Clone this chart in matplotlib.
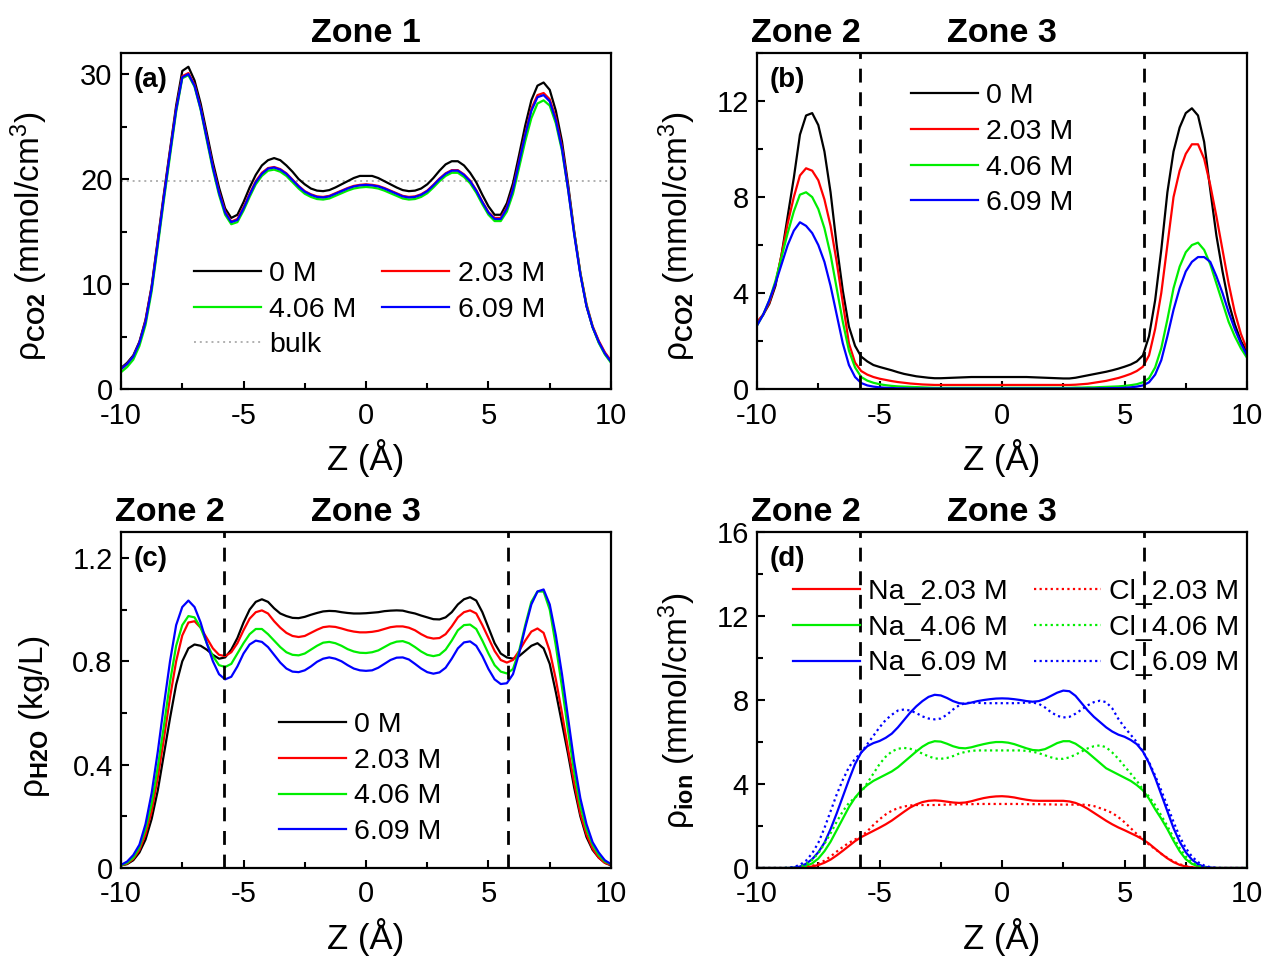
import numpy as np
import matplotlib
matplotlib.use('Agg')
import matplotlib.pyplot as plt
from matplotlib.ticker import MultipleLocator, FuncFormatter

plt.rcParams['font.family'] = ['Liberation Sans', 'DejaVu Sans']
plt.rcParams['mathtext.fontset'] = 'custom'
plt.rcParams['mathtext.rm'] = 'Liberation Sans'
plt.rcParams['mathtext.it'] = 'Liberation Sans:italic'
plt.rcParams['mathtext.bf'] = 'Liberation Sans:bold'
plt.rcParams['axes.unicode_minus'] = False

# Z grid (Angstrom), 0.25 A steps, 81 points
z = np.linspace(-10, 10, 81)

# (a) CO2 density in zone 1 (mmol/cm3)
a_0M = [2.0, 2.5, 3.2, 4.5, 6.6, 9.8, 14.2, 18.6, 22.8,
        27.0, 30.3, 30.7, 29.4, 27.2, 24.4, 21.6, 19.2, 17.2,
        16.3, 16.6, 17.8, 19.2, 20.4, 21.3, 21.8, 22.0, 21.8,
        21.3, 20.7, 20.0, 19.5, 19.1, 18.9, 18.85, 18.95, 19.2,
        19.5, 19.8, 20.1, 20.3, 20.3, 20.3, 20.1, 19.8, 19.5,
        19.2, 18.95, 18.85, 18.9, 19.1, 19.5, 20.1, 20.8, 21.4,
        21.7, 21.7, 21.3, 20.6, 19.7, 18.5, 17.4, 16.6, 16.6,
        17.7, 19.6, 22.3, 25.1, 27.5, 28.9, 29.2, 28.5, 26.5,
        23.6, 19.5, 15.0, 11.0, 7.9, 5.9, 4.5, 3.4, 2.6]
a_203 = [1.9, 2.4, 3.1, 4.4, 6.5, 9.7, 14.0, 18.4, 22.6,
         26.7, 29.8, 30.1, 29.0, 26.8, 24.0, 21.2, 18.8, 16.9,
         15.95, 16.2, 17.3, 18.6, 19.8, 20.6, 21.05, 21.15, 20.95,
         20.55, 19.95, 19.35, 18.85, 18.55, 18.35, 18.3, 18.4, 18.65,
         18.9, 19.15, 19.35, 19.45, 19.5, 19.45, 19.35, 19.15, 18.9,
         18.65, 18.4, 18.3, 18.35, 18.55, 18.9, 19.45, 20.05, 20.55,
         20.85, 20.85, 20.45, 19.85, 18.95, 17.85, 16.85, 16.3, 16.3,
         17.3, 19.1, 21.7, 24.3, 26.7, 28.0, 28.2, 27.6, 25.8,
         23.1, 19.2, 14.9, 11.1, 8.1, 6.0, 4.6, 3.5, 2.7]
a_406 = [1.6, 2.1, 2.8, 4.1, 6.1, 9.3, 13.6, 18.0, 22.2,
         26.4, 29.6, 29.9, 28.8, 26.6, 23.7, 20.9, 18.5, 16.6,
         15.7, 15.9, 17.0, 18.3, 19.5, 20.3, 20.8, 20.9, 20.7,
         20.3, 19.7, 19.1, 18.6, 18.3, 18.1, 18.05, 18.15, 18.4,
         18.65, 18.9, 19.1, 19.2, 19.25, 19.2, 19.1, 18.9, 18.65,
         18.4, 18.15, 18.05, 18.1, 18.3, 18.65, 19.2, 19.8, 20.3,
         20.6, 20.6, 20.2, 19.6, 18.7, 17.6, 16.6, 16.0, 16.0,
         16.9, 18.6, 21.1, 23.6, 25.8, 27.2, 27.5, 27.0, 25.3,
         22.7, 19.0, 14.8, 11.0, 8.0, 5.9, 4.4, 3.3, 2.5]
a_609 = [1.9, 2.4, 3.1, 4.4, 6.4, 9.6, 13.9, 18.3, 22.5,
         26.6, 29.7, 30.0, 28.9, 26.7, 23.9, 21.1, 18.7, 16.8,
         15.9, 16.1, 17.2, 18.5, 19.7, 20.5, 21.0, 21.1, 20.9,
         20.5, 19.9, 19.3, 18.8, 18.5, 18.3, 18.25, 18.35, 18.6,
         18.85, 19.1, 19.3, 19.4, 19.45, 19.4, 19.3, 19.1, 18.85,
         18.6, 18.35, 18.25, 18.3, 18.5, 18.85, 19.4, 20.0, 20.5,
         20.8, 20.8, 20.4, 19.8, 18.9, 17.8, 16.8, 16.2, 16.2,
         17.2, 19.0, 21.6, 24.2, 26.5, 27.8, 28.0, 27.4, 25.6,
         22.9, 19.0, 14.7, 10.9, 7.9, 5.9, 4.5, 3.4, 2.6]
a_bulk = 19.8

# (b) CO2 density across zones 2/3 (mmol/cm3)
b_0M = [2.75, 3.1, 3.55, 4.3, 5.6, 7.2, 8.8, 10.6, 11.4,
        11.5, 11.0, 9.9, 8.2, 6.0, 4.1, 2.6, 1.8, 1.35,
        1.15, 1.0, 0.92, 0.85, 0.78, 0.7, 0.63, 0.58, 0.53,
        0.5, 0.47, 0.45, 0.45, 0.46, 0.47, 0.48, 0.49, 0.5,
        0.5, 0.5, 0.5, 0.5, 0.5, 0.5, 0.5, 0.5, 0.5,
        0.49, 0.48, 0.47, 0.46, 0.45, 0.44, 0.44, 0.47, 0.52,
        0.57, 0.62, 0.67, 0.72, 0.78, 0.85, 0.93, 1.02, 1.15,
        1.4, 2.2, 3.7, 5.8, 8.2, 9.9, 10.9, 11.5, 11.7,
        11.4, 10.3, 8.3, 6.4, 4.9, 3.6, 2.7, 2.0, 1.55]
b_203 = [2.8, 3.1, 3.6, 4.4, 5.6, 6.9, 8.0, 8.9, 9.2,
         9.1, 8.7, 7.9, 6.8, 5.3, 3.6, 1.9, 1.1, 0.75,
         0.6, 0.5, 0.43, 0.38, 0.33, 0.29, 0.26, 0.23, 0.21,
         0.19, 0.18, 0.17, 0.17, 0.17, 0.17, 0.17, 0.17, 0.17,
         0.17, 0.17, 0.17, 0.17, 0.17, 0.17, 0.17, 0.17, 0.17,
         0.17, 0.17, 0.17, 0.17, 0.17, 0.17, 0.17, 0.18, 0.2,
         0.22, 0.26, 0.3, 0.34, 0.4, 0.46, 0.54, 0.63, 0.75,
         0.93, 1.4, 2.5, 4.0, 6.0, 8.0, 9.1, 9.8, 10.2,
         10.2, 9.6, 8.5, 7.2, 5.8, 4.4, 3.2, 2.3, 1.65]
b_406 = [2.65, 3.1, 3.7, 4.5, 5.5, 6.5, 7.4, 8.1, 8.2,
         8.0, 7.5, 6.7, 5.6, 4.2, 2.8, 1.6, 0.9, 0.5,
         0.35, 0.26, 0.2, 0.16, 0.13, 0.11, 0.1, 0.09, 0.08,
         0.07, 0.06, 0.05, 0.05, 0.05, 0.05, 0.05, 0.05, 0.05,
         0.05, 0.05, 0.05, 0.05, 0.05, 0.05, 0.05, 0.05, 0.05,
         0.05, 0.05, 0.05, 0.05, 0.05, 0.05, 0.05, 0.06, 0.06,
         0.07, 0.07, 0.08, 0.09, 0.1, 0.11, 0.13, 0.16, 0.2,
         0.28, 0.45, 0.9, 1.7, 2.9, 4.2, 5.1, 5.7, 6.0,
         6.1, 5.8, 5.2, 4.4, 3.6, 2.8, 2.2, 1.7, 1.3]
b_609 = [2.65, 3.1, 3.7, 4.4, 5.2, 6.0, 6.6, 6.95, 6.8,
         6.5, 6.0, 5.3, 4.3, 3.1, 1.9, 1.0, 0.5, 0.25,
         0.15, 0.1, 0.07, 0.05, 0.04, 0.03, 0.03, 0.02, 0.02,
         0.02, 0.02, 0.02, 0.02, 0.02, 0.02, 0.02, 0.02, 0.02,
         0.02, 0.02, 0.02, 0.02, 0.02, 0.02, 0.02, 0.02, 0.02,
         0.02, 0.02, 0.02, 0.02, 0.02, 0.02, 0.02, 0.02, 0.02,
         0.02, 0.02, 0.03, 0.03, 0.04, 0.04, 0.05, 0.07, 0.1,
         0.15, 0.28, 0.6, 1.2, 2.2, 3.3, 4.2, 4.9, 5.3,
         5.5, 5.5, 5.3, 4.7, 4.0, 3.2, 2.5, 1.9, 1.4]

# (c) H2O density (kg/L)
c_0M = [0.01, 0.015, 0.03, 0.06, 0.11, 0.19, 0.3, 0.44, 0.58,
        0.71, 0.8, 0.85, 0.865, 0.86, 0.845, 0.825, 0.81, 0.815,
        0.845, 0.89, 0.95, 1.0, 1.03, 1.04, 1.03, 1.005, 0.985,
        0.975, 0.968, 0.967, 0.972, 0.98, 0.987, 0.993, 0.995, 0.994,
        0.99, 0.987, 0.985, 0.985, 0.986, 0.988, 0.99, 0.994, 0.996,
        0.997, 0.996, 0.99, 0.985, 0.977, 0.97, 0.963, 0.962, 0.97,
        0.99, 1.02, 1.04, 1.048, 1.035, 0.99, 0.93, 0.87, 0.83,
        0.815, 0.81, 0.82, 0.84, 0.86, 0.87, 0.85, 0.79, 0.68,
        0.56, 0.44, 0.31, 0.2, 0.12, 0.07, 0.04, 0.02, 0.01]
c_203 = [0.01, 0.017, 0.035, 0.07, 0.13, 0.22, 0.35, 0.5, 0.66,
         0.8, 0.9, 0.95, 0.955, 0.93, 0.89, 0.85, 0.825, 0.82,
         0.835, 0.87, 0.92, 0.965, 0.99, 0.997, 0.985, 0.955, 0.93,
         0.91, 0.898, 0.894, 0.898, 0.91, 0.922, 0.932, 0.935, 0.933,
         0.927, 0.92, 0.915, 0.912, 0.912, 0.914, 0.918, 0.925, 0.932,
         0.935, 0.935, 0.93, 0.92, 0.905, 0.893, 0.888, 0.89, 0.905,
         0.935, 0.97, 0.99, 0.997, 0.985, 0.94, 0.89, 0.84, 0.805,
         0.795, 0.805, 0.84, 0.88, 0.915, 0.927, 0.91, 0.84, 0.73,
         0.6, 0.46, 0.33, 0.21, 0.13, 0.075, 0.04, 0.02, 0.012]
c_406 = [0.01, 0.02, 0.04, 0.08, 0.15, 0.25, 0.39, 0.55, 0.72,
         0.86, 0.94, 0.975, 0.97, 0.93, 0.87, 0.82, 0.785, 0.778,
         0.79, 0.83, 0.87, 0.905, 0.925, 0.925, 0.905, 0.88, 0.855,
         0.835, 0.825, 0.823, 0.83, 0.845, 0.86, 0.872, 0.875, 0.87,
         0.86, 0.847, 0.838, 0.833, 0.832, 0.835, 0.842, 0.855, 0.868,
         0.876, 0.878, 0.87, 0.855, 0.838, 0.825, 0.82, 0.825, 0.845,
         0.88, 0.92, 0.94, 0.942, 0.925, 0.88, 0.83, 0.785, 0.76,
         0.753, 0.77, 0.84, 0.94, 1.03, 1.07, 1.07, 1.0, 0.86,
         0.7, 0.53, 0.37, 0.24, 0.15, 0.09, 0.05, 0.025, 0.015]
c_609 = [0.012, 0.025, 0.05, 0.09, 0.17, 0.29, 0.45, 0.63, 0.8,
         0.94, 1.01, 1.035, 1.01, 0.95, 0.87, 0.8, 0.75, 0.73,
         0.74, 0.78, 0.83, 0.865, 0.88, 0.875, 0.855, 0.825, 0.795,
         0.772, 0.76, 0.758, 0.765, 0.78, 0.798, 0.81, 0.815, 0.81,
         0.8, 0.785, 0.772, 0.765, 0.763, 0.765, 0.775, 0.79, 0.805,
         0.814, 0.815, 0.807, 0.79, 0.772, 0.758, 0.752, 0.757, 0.775,
         0.81, 0.85, 0.873, 0.877, 0.86, 0.82, 0.77, 0.73, 0.712,
         0.715, 0.75, 0.83, 0.93, 1.02, 1.07, 1.078, 1.02, 0.9,
         0.75, 0.58, 0.41, 0.27, 0.17, 0.1, 0.06, 0.03, 0.015]

# (d) ion densities (mmol/cm3)
na_203 = [0, 0, 0, 0, 0, 0, 0, 0.01, 0.03,
          0.07, 0.14, 0.25, 0.4, 0.6, 0.82, 1.05, 1.28, 1.47,
          1.62, 1.77, 1.92, 2.08, 2.26, 2.47, 2.68, 2.88, 3.03,
          3.14, 3.2, 3.22, 3.2, 3.16, 3.12, 3.1, 3.12, 3.18,
          3.26, 3.33, 3.38, 3.41, 3.42, 3.4, 3.36, 3.3, 3.25,
          3.21, 3.2, 3.2, 3.2, 3.2, 3.2, 3.17, 3.1, 2.98,
          2.82, 2.63, 2.44, 2.25, 2.08, 1.93, 1.8, 1.66, 1.52,
          1.36, 1.16, 0.92, 0.68, 0.46, 0.28, 0.15, 0.07, 0.03,
          0.01, 0, 0, 0, 0, 0, 0, 0, 0]
na_406 = [0, 0, 0, 0, 0, 0, 0.01, 0.04, 0.1,
          0.22, 0.45, 0.8, 1.25, 1.8, 2.35, 2.9, 3.35, 3.7,
          3.95, 4.15, 4.3, 4.45, 4.6, 4.8, 5.05, 5.3, 5.55,
          5.78, 5.95, 6.04, 6.02, 5.92, 5.8, 5.72, 5.7, 5.75,
          5.83, 5.9, 5.96, 6.0, 6.0, 5.97, 5.9, 5.8, 5.7,
          5.62, 5.6, 5.66, 5.8, 5.95, 6.04, 6.04, 5.92, 5.72,
          5.5, 5.25, 5.0, 4.75, 4.6, 4.45, 4.3, 4.15, 3.95,
          3.7, 3.3, 2.8, 2.35, 1.85, 1.3, 0.8, 0.42, 0.2,
          0.08, 0.02, 0, 0, 0, 0, 0, 0, 0]
na_609 = [0, 0, 0, 0, 0, 0, 0.02, 0.07, 0.2,
          0.42, 0.75, 1.2, 1.85, 2.6, 3.4, 4.2, 4.95, 5.5,
          5.8, 5.95, 6.05, 6.2, 6.4, 6.7, 7.05, 7.4, 7.7,
          7.95, 8.15, 8.25, 8.22, 8.1, 7.95, 7.85, 7.82, 7.88,
          7.95, 8.0, 8.04, 8.07, 8.08, 8.07, 8.04, 8.0, 7.95,
          7.92, 7.95, 8.05, 8.2, 8.35, 8.45, 8.42, 8.2, 7.85,
          7.5, 7.2, 6.95, 6.7, 6.5, 6.35, 6.25, 6.1, 5.9,
          5.55, 5.0, 4.3, 3.5, 2.7, 1.9, 1.25, 0.75, 0.4,
          0.18, 0.06, 0.02, 0, 0, 0, 0, 0, 0]
cl_203 = [0, 0, 0, 0, 0, 0, 0, 0.01, 0.04,
          0.1, 0.2, 0.35, 0.55, 0.78, 1.0, 1.2, 1.36, 1.5,
          1.75, 2.05, 2.32, 2.55, 2.73, 2.85, 2.93, 2.98, 3.0,
          3.0, 3.0, 3.0, 3.01, 3.02, 3.03, 3.03, 3.04, 3.04,
          3.05, 3.05, 3.05, 3.05, 3.05, 3.05, 3.05, 3.05, 3.04,
          3.04, 3.04, 3.03, 3.03, 3.02, 3.02, 3.02, 3.02, 3.02,
          3.0, 2.95, 2.85, 2.75, 2.62, 2.42, 2.18, 1.9, 1.62,
          1.36, 1.12, 0.9, 0.68, 0.48, 0.31, 0.18, 0.09, 0.04,
          0.01, 0, 0, 0, 0, 0, 0, 0, 0]
cl_406 = [0, 0, 0, 0, 0, 0.01, 0.03, 0.08, 0.18,
          0.38, 0.7, 1.15, 1.65, 2.2, 2.7, 3.1, 3.35, 3.6,
          4.05, 4.5, 4.95, 5.3, 5.55, 5.68, 5.72, 5.68, 5.58,
          5.45, 5.32, 5.22, 5.2, 5.24, 5.33, 5.45, 5.53, 5.58,
          5.6, 5.6, 5.6, 5.6, 5.6, 5.6, 5.6, 5.6, 5.58,
          5.54, 5.47, 5.37, 5.27, 5.2, 5.2, 5.27, 5.4, 5.55,
          5.7, 5.8, 5.84, 5.75, 5.5, 5.2, 4.85, 4.5, 4.15,
          3.75, 3.4, 3.0, 2.5, 2.0, 1.45, 0.95, 0.55, 0.27,
          0.1, 0.03, 0, 0, 0, 0, 0, 0, 0]
cl_609 = [0, 0, 0, 0, 0, 0.01, 0.05, 0.15, 0.35,
          0.7, 1.2, 1.9, 2.7, 3.5, 4.2, 4.8, 5.2, 5.5,
          5.9, 6.3, 6.7, 7.05, 7.3, 7.5, 7.55, 7.5, 7.38,
          7.22, 7.12, 7.08, 7.12, 7.3, 7.55, 7.75, 7.85, 7.88,
          7.87, 7.85, 7.85, 7.85, 7.85, 7.85, 7.85, 7.86, 7.88,
          7.88, 7.82, 7.65, 7.42, 7.25, 7.17, 7.2, 7.35, 7.55,
          7.75, 7.9, 7.97, 7.9, 7.6, 7.1, 6.7, 6.35, 6.0,
          5.55, 5.05, 4.4, 3.7, 2.95, 2.2, 1.5, 0.95, 0.55,
          0.28, 0.12, 0.04, 0.01, 0, 0, 0, 0, 0]

zone_edge = 5.8
conc_labels = ['0 M', '2.03 M', '4.06 M', '6.09 M']
colors = ['black', '#ff0000', '#00ee00', '#0000ff']

fig = plt.figure(figsize=(12.66, 9.57), dpi=100)
w, h = 0.387, 0.351
axa = fig.add_axes([0.0956, 0.5935, w, h])
axb = fig.add_axes([0.598, 0.5935, w, h])
axc = fig.add_axes([0.0956, 0.093, w, h])
axd = fig.add_axes([0.598, 0.093, w, h])

fmt = FuncFormatter(lambda v, p: '%g' % round(v, 3))
leg_kw = dict(frameon=False, fontsize=20.5, loc='upper left', borderpad=0, borderaxespad=0,
              handlelength=2.35, handletextpad=0.3, labelspacing=0.34, columnspacing=0.9)


def style(ax, ymax, ymaj, label, ylabel, ylab_pos):
    ax.set_xlim(-10, 10)
    ax.set_ylim(0, ymax)
    ax.xaxis.set_major_locator(MultipleLocator(5))
    ax.xaxis.set_minor_locator(MultipleLocator(2.5))
    ax.yaxis.set_major_locator(MultipleLocator(ymaj))
    ax.yaxis.set_minor_locator(MultipleLocator(ymaj / 2))
    ax.yaxis.set_major_formatter(fmt)
    ax.xaxis.set_major_formatter(fmt)
    ax.tick_params(which='both', direction='in', width=1.5, labelsize=21, top=False, right=False)
    ax.tick_params(which='major', length=6, pad=6)
    ax.tick_params(axis='x', which='major', pad=9)
    ax.tick_params(which='minor', length=4)
    for s in ax.spines.values():
        s.set_linewidth(1.6)
    ax.text(0.025, 0.96, label, transform=ax.transAxes, fontsize=20, fontweight='bold', va='top', ha='left')
    ax.set_xlabel('Z (Å)', fontsize=25, labelpad=7)
    ax.set_ylabel(ylabel, fontsize=24)
    ax.yaxis.set_label_coords(*ylab_pos)


def zone(ax, x, txt):
    ax.annotate(txt, xy=(x, 1), xycoords=('data', 'axes fraction'), xytext=(0, 3),
                textcoords='offset points', ha='center', va='bottom', fontsize=24.5, fontweight='bold')


# (a)
lines = []
for vals, c, lab in zip([a_0M, a_203, a_406, a_609], colors, conc_labels):
    ln, = axa.plot(z, vals, color=c, lw=1.6, label=lab)
    lines.append(ln)
bl = axa.axhline(a_bulk, color='#b0b0b0', lw=1.4, ls=(0, (1, 2)), label='bulk', zorder=0)
style(axa, 32, 10, '(a)', 'ρ$_{\\mathbf{CO2}}$ (mmol/cm$^3$)', (-0.145, 0.455))
zone(axa, 0, 'Zone 1')
axa.legend([lines[0], lines[2], bl, lines[1], lines[3]],
           [conc_labels[0], conc_labels[2], 'bulk', conc_labels[1], conc_labels[3]],
           ncol=2, bbox_to_anchor=(0.149, 0.381), **leg_kw)

# (b)
for vals, c, lab in zip([b_0M, b_203, b_406, b_609], colors, conc_labels):
    axb.plot(z, vals, color=c, lw=1.6, label=lab)
for xe in (-zone_edge, zone_edge):
    axb.axvline(xe, color='black', lw=2, ls=(0, (5, 3.5)))
style(axb, 14, 4, '(b)', 'ρ$_{\\mathbf{CO2}}$ (mmol/cm$^3$)', (-0.12, 0.455))
zone(axb, -8.0, 'Zone 2')
zone(axb, 0, 'Zone 3')
axb.legend(bbox_to_anchor=(0.314, 0.91), **leg_kw)

# (c)
for vals, c, lab in zip([c_0M, c_203, c_406, c_609], colors, conc_labels):
    axc.plot(z, vals, color=c, lw=1.6, label=lab)
for xe in (-zone_edge, zone_edge):
    axc.axvline(xe, color='black', lw=2, ls=(0, (5, 3.5)))
style(axc, 1.3, 0.4, '(c)', 'ρ$_{\\mathbf{H2O}}$ (kg/L)', (-0.14, 0.45))
zone(axc, -8.0, 'Zone 2')
zone(axc, 0, 'Zone 3')
axc.legend(bbox_to_anchor=(0.322, 0.464), **leg_kw)

# (d)
ion_colors = colors[1:]
na_lines, cl_lines = [], []
for vals, c, lab in zip([na_203, na_406, na_609], ion_colors, conc_labels[1:]):
    ln, = axd.plot(z, vals, color=c, lw=1.6, label='Na_' + lab)
    na_lines.append(ln)
for vals, c, lab in zip([cl_203, cl_406, cl_609], ion_colors, conc_labels[1:]):
    ln, = axd.plot(z, vals, color=c, lw=1.6, ls=(0, (1, 1.5)), label='Cl_' + lab)
    cl_lines.append(ln)
for xe in (-zone_edge, zone_edge):
    axd.axvline(xe, color='black', lw=2, ls=(0, (5, 3.5)))
style(axd, 16, 4, '(d)', 'ρ$_{\\mathbf{ion}}$ (mmol/cm$^3$)', (-0.12, 0.469))
zone(axd, -8.0, 'Zone 2')
zone(axd, 0, 'Zone 3')
axd.legend(na_lines + cl_lines, [l.get_label() for l in na_lines + cl_lines], ncol=2,
           bbox_to_anchor=(0.073, 0.86), **leg_kw)

fig.savefig('out.png', dpi=100)
